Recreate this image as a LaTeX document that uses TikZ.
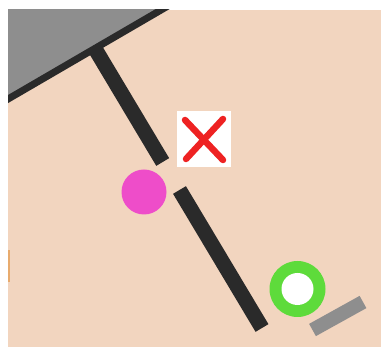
\documentclass[tikz,border=0pt]{standalone}
\usepackage{tikz}
\definecolor{sand}{HTML}{F2D5BF}
\definecolor{slab}{HTML}{8E8E8E}
\definecolor{coal}{HTML}{2A2A2A}
\definecolor{orb}{HTML}{EE4DC9}
\definecolor{ring}{HTML}{5EDB3B}
\definecolor{cross}{HTML}{EE2222}
\definecolor{rust}{HTML}{E49A4C}
\tikzset{wall/.style={coal,line width=15pt}}

\begin{document}
\begin{tikzpicture}[x=1pt,y=-1pt]
  \useasboundingbox (0,0) rectangle (381,347);
  \fill[sand] (8,10) rectangle (381,347);
  \begin{scope}
    \clip (8,10) rectangle (381,347);
    \coordinate (w1) at (89.8,40);
    \coordinate (w2) at (162.7,162);
    \coordinate (w3) at (179.5,190);
    \coordinate (w4) at (262,328);
    \draw[wall] (w1)--(w2);
    \draw[wall] (w3)--(w4);
    \fill[slab] (0,0)--(178.2,0)--(0,103.7)--cycle;
    \draw[coal,line width=7pt] (0,103.7)--(178.2,0);
  \end{scope}
  \fill[rust,opacity=.7] (8,250) rectangle (10,282);
  \fill[orb] (144,192) circle (22.5);
  \fill[ring] (297.5,289) circle (28);
  \fill[white] (297.5,289) circle (16);
  \draw[slab,line width=14pt] (312.5,330)--(363,302);
  \node[fill=white,minimum width=54pt,minimum height=56pt,inner sep=0pt] (xbox) at (204,139) {};
  \draw[cross,line width=6.5pt,line cap=round] (xbox.center) ++(-19,-19) -- ++(38,40);
  \draw[cross,line width=6.5pt,line cap=round] (xbox.center) ++(19,-20) -- ++(-37,40);
\end{tikzpicture}
\end{document}
